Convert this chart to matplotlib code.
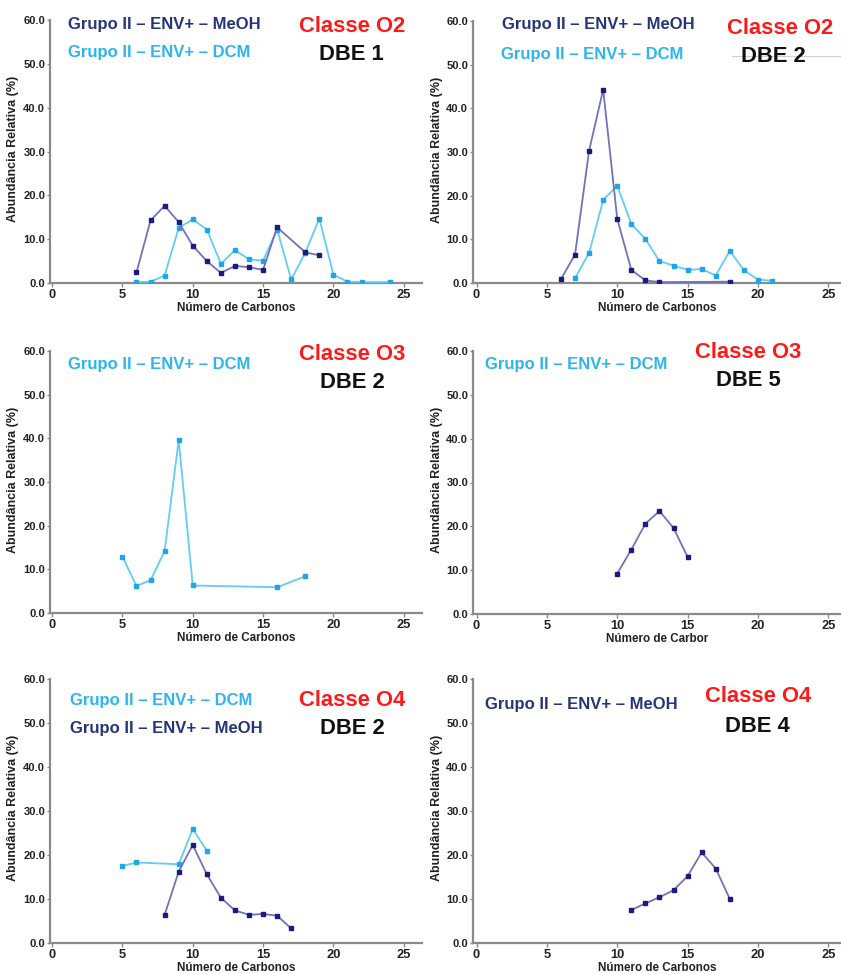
import matplotlib
matplotlib.use("Agg")
import matplotlib.pyplot as plt
from matplotlib.lines import Line2D

W, H = 841, 974
DPI = 100

# ---------------- data ----------------
p1_meoh_x = [6, 7, 8, 9, 10, 11, 12, 13, 14, 15, 16, 18, 19]
p1_meoh_y = [2.4, 14.3, 17.6, 13.9, 8.5, 5.0, 2.3, 3.9, 3.6, 3.0, 12.7, 7.0, 6.3]
p1_dcm_x = [6, 7, 8, 9, 10, 11, 12, 13, 14, 15, 16, 17, 18, 19, 20, 21, 22, 24]
p1_dcm_y = [0.2, 0.3, 1.7, 12.6, 14.5, 12.2, 4.4, 7.5, 5.4, 5.1, 12.2, 0.8, 6.9, 14.7, 1.9, 0.3, 0.2, 0.2]

p2_meoh_x = [6, 7, 8, 9, 10, 11, 12, 13, 18]
p2_meoh_y = [0.9, 6.5, 30.3, 44.3, 14.7, 3.0, 0.6, 0.2, 0.3]
p2_dcm_x = [7, 8, 9, 10, 11, 12, 13, 14, 15, 16, 17, 18, 19, 20, 21]
p2_dcm_y = [1.1, 6.9, 19.0, 22.3, 13.5, 10.1, 5.0, 4.0, 3.0, 3.2, 1.7, 7.4, 2.9, 0.8, 0.5]

p3_dcm_x = [5, 6, 7, 8, 9, 10, 16, 18]
p3_dcm_y = [12.9, 6.2, 7.5, 14.2, 39.6, 6.3, 5.9, 8.4]

p4_meoh_x = [10, 11, 12, 13, 14, 15]
p4_meoh_y = [9.2, 14.7, 20.6, 23.5, 19.6, 13.0]

p5_dcm_x = [5, 6, 9, 10, 11]
p5_dcm_y = [17.5, 18.3, 17.9, 25.9, 21.0]
p5_meoh_x = [8, 9, 10, 11, 12, 13, 14, 15, 16, 17]
p5_meoh_y = [6.4, 16.2, 22.3, 15.6, 10.3, 7.4, 6.4, 6.6, 6.2, 3.3]

p6_meoh_x = [11, 12, 13, 14, 15, 16, 17, 18]
p6_meoh_y = [7.5, 9.0, 10.4, 12.0, 15.2, 20.6, 16.9, 10.0]

xticks = [0, 5, 10, 15, 20, 25]
yticks = [0, 10, 20, 30, 40, 50, 60]
ytick_labels = ["0.0", "10.0", "20.0", "30.0", "40.0", "50.0", "60.0"]

lbl_meoh = "Grupo II – ENV+ – MeOH"
lbl_dcm = "Grupo II – ENV+ – DCM"
ylabel = "Abundância Relativa (%)"
xlabel = "Número de Carbonos"
xlabel_p4 = "Número de Carbor"

# ---------------- style ----------------
C_MEOH_LINE = "#7272bb"
C_MEOH_MK = "#1b1b7e"
C_DCM_LINE = "#62cdf5"
C_DCM_MK = "#1fa6e6"
C_MEOH_TXT = "#263579"
C_DCM_TXT = "#2cb5ee"
SPINE = "#8a8a8a"

ARIAL = ["Liberation Sans", "DejaVu Sans"]
plt.rcParams["font.family"] = ARIAL
plt.rcParams["font.weight"] = "bold"
plt.rcParams["xtick.labelsize"] = 9.3
plt.rcParams["ytick.labelsize"] = 8.0
plt.rcParams["xtick.color"] = SPINE
plt.rcParams["ytick.color"] = SPINE
plt.rcParams["xtick.labelcolor"] = "#222222"
plt.rcParams["ytick.labelcolor"] = "#222222"

fig = plt.figure(figsize=(W / DPI, H / DPI), dpi=DPI)


def px_axes(left, right, top, bottom):
    return fig.add_axes([left / W, 1 - bottom / H, (right - left) / W, (bottom - top) / H])


def style(ax, xlim, xl, label_px):
    ax.set_xlim(*xlim)
    ax.set_ylim(0, 60)
    for s in ["top", "right"]:
        ax.spines[s].set_visible(False)
    for s in ["left", "bottom"]:
        ax.spines[s].set_color(SPINE)
        ax.spines[s].set_linewidth(1.6)
    ax.set_xticks(xticks)
    ax.set_yticks(yticks)
    ax.set_yticklabels(ytick_labels)
    ax.tick_params(axis="x", direction="out", length=3, width=1, pad=1.5)
    ax.tick_params(axis="y", direction="out", length=2.5, width=1, pad=1)
    ax.set_ylabel(ylabel, fontweight="bold", fontsize=9.0, color="#222222")
    bbox = ax.get_position()
    ax_w_px = bbox.width * W
    ax.yaxis.set_label_coords((label_px - (bbox.x0 * W)) / ax_w_px, 0.51)
    ax.set_xlabel(xl, fontweight="bold", fontsize=8.4, color="#222222", labelpad=0.3)
    ax.patch.set_alpha(0)


def meoh(ax, x, y):
    ax.plot(x, y, color=C_MEOH_LINE, lw=1.3, marker="s", ms=3.0,
            mfc=C_MEOH_MK, mec=C_MEOH_MK, zorder=3)


def dcm(ax, x, y):
    ax.plot(x, y, color=C_DCM_LINE, lw=1.3, marker="s", ms=2.7,
            mfc=C_DCM_MK, mec=C_DCM_MK, zorder=3)


def ftext(x, y, s, color, size, ha="left"):
    fig.text(x / W, 1 - y / H, s, color=color, fontsize=size, fontweight="bold",
             ha=ha, va="center")


L_LEFT, L_RIGHT = 50, 422
R_LEFT, R_RIGHT = 473, 841
XL_L = (-0.15, 26.3)
XL_R = (-0.25, 25.9)
YL_L = 19
YL_R = 443

# Panel 1
ax1 = px_axes(L_LEFT, L_RIGHT, 20, 283)
dcm(ax1, p1_dcm_x, p1_dcm_y)
meoh(ax1, p1_meoh_x, p1_meoh_y)
style(ax1, XL_L, xlabel, YL_L)
ftext(68, 24, lbl_meoh, C_MEOH_TXT, 12)
ftext(68, 53, lbl_dcm, C_DCM_TXT, 12)
ftext(352, 27, "Classe O2", "#ff1a1a", 15.8, ha="center")
ftext(351, 55, "DBE 1", "#111111", 15.8, ha="center")

# Panel 2
ax2 = px_axes(R_LEFT, R_RIGHT, 21, 283)
dcm(ax2, p2_dcm_x, p2_dcm_y)
meoh(ax2, p2_meoh_x, p2_meoh_y)
style(ax2, XL_R, xlabel, YL_R)
fig.add_artist(Line2D([732 / W, 841 / W], [1 - 56 / H, 1 - 56 / H], color="#d0d0d0", lw=0.8, zorder=0))
ftext(502, 24, lbl_meoh, C_MEOH_TXT, 12)
ftext(501, 55, lbl_dcm, C_DCM_TXT, 12)
ftext(780, 29, "Classe O2", "#ff1a1a", 15.8, ha="center")
ftext(773, 57, "DBE 2", "#111111", 15.8, ha="center")

# Panel 3
ax3 = px_axes(L_LEFT, L_RIGHT, 351, 613)
dcm(ax3, p3_dcm_x, p3_dcm_y)
style(ax3, XL_L, xlabel, YL_L)
ftext(68, 365, lbl_dcm, C_DCM_TXT, 12)
ftext(352, 354, "Classe O3", "#ff1a1a", 15.8, ha="center")
ftext(352, 382, "DBE 2", "#111111", 15.8, ha="center")

# Panel 4
ax4 = px_axes(R_LEFT, R_RIGHT, 351, 614)
meoh(ax4, p4_meoh_x, p4_meoh_y)
style(ax4, XL_R, xlabel_p4, YL_R)
ftext(485, 364, lbl_dcm, C_DCM_TXT, 12)
ftext(748, 352, "Classe O3", "#ff1a1a", 15.8, ha="center")
ftext(748, 381, "DBE 5", "#111111", 15.8, ha="center")

# Panel 5
ax5 = px_axes(L_LEFT, L_RIGHT, 679, 943)
dcm(ax5, p5_dcm_x, p5_dcm_y)
meoh(ax5, p5_meoh_x, p5_meoh_y)
style(ax5, XL_L, xlabel, YL_L)
ftext(70, 700, lbl_dcm, C_DCM_TXT, 12)
ftext(70, 729, lbl_meoh, C_MEOH_TXT, 12)
ftext(352, 700, "Classe O4", "#ff1a1a", 15.8, ha="center")
ftext(352, 729, "DBE 2", "#111111", 15.8, ha="center")

# Panel 6
ax6 = px_axes(R_LEFT, R_RIGHT, 679, 943)
meoh(ax6, p6_meoh_x, p6_meoh_y)
style(ax6, XL_R, xlabel, YL_R)
ftext(485, 704, lbl_meoh, C_MEOH_TXT, 12)
ftext(758, 697, "Classe O4", "#ff1a1a", 15.8, ha="center")
ftext(757, 726, "DBE 4", "#111111", 15.8, ha="center")

fig.savefig("out.png", dpi=DPI)
